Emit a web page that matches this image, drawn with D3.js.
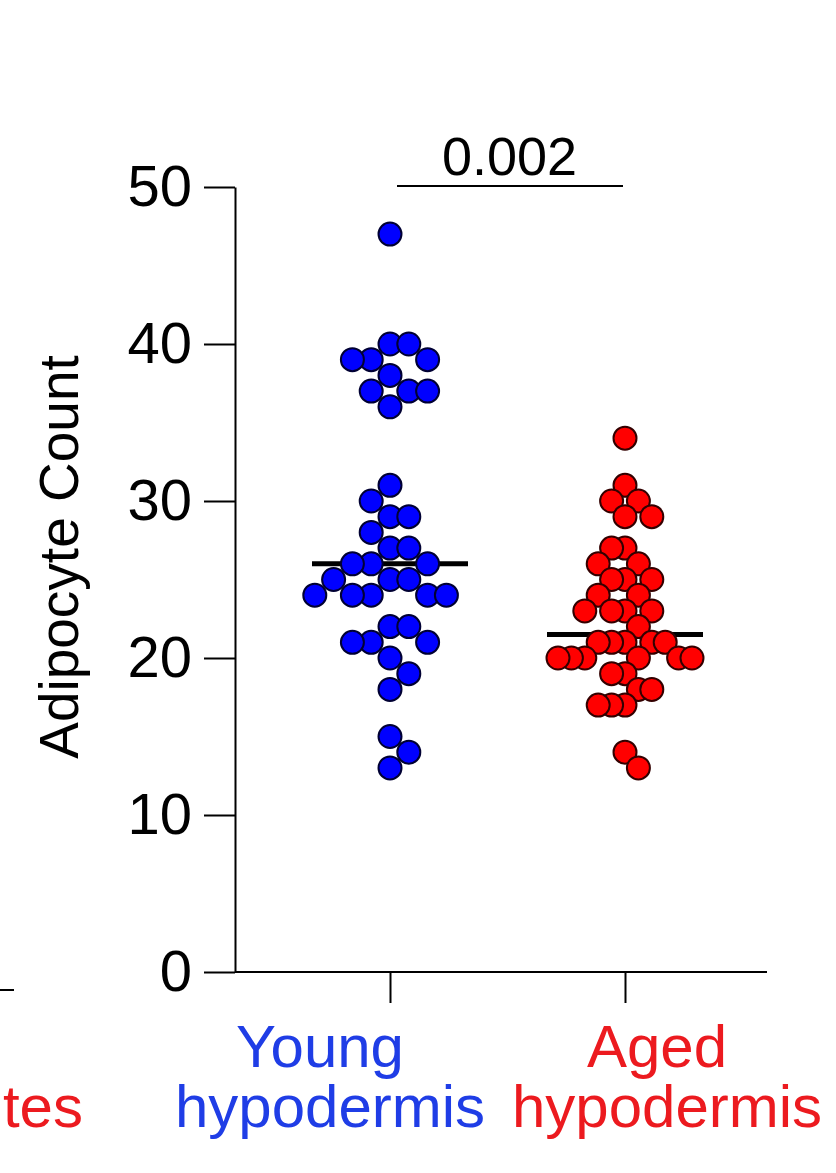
<!DOCTYPE html>
<html>
<head>
<meta charset="utf-8">
<script src="https://cdn.jsdelivr.net/npm/d3@7"></script>
<style>
  body { margin: 0; background: #fff; }
  svg text { font-family: "Liberation Sans", Arial, sans-serif; }
</style>
</head>
<body>
<div id="my_dotplot"></div>
<script>
// values
var youngCounts = [47, 40, 40, 39, 39, 39, 38, 37, 37, 37, 36, 31, 30, 29, 29, 28, 27, 27, 26, 26,
                   26, 25, 25, 25, 24, 24, 24, 24, 24, 22, 22, 21, 21, 21, 20, 19, 18, 15, 14, 13];
var agedCounts = [34, 31, 30, 30, 29, 29, 27, 27, 26, 26, 25, 25, 25, 24, 24, 23, 23, 23, 23, 22,
                  21, 21, 21, 21, 21, 20, 20, 20, 20, 20, 20, 19, 19, 18, 18, 17, 17, 17, 14, 13];
var groupNames = ["Young", "Aged"];
var groupSub = "hypodermis";
var yTicks = [0, 10, 20, 30, 40, 50];
var pValue = "0.002";
var yTitle = "Adipocyte Count";
var cutText = "tes";

var groupColor = { Young: "#0000ff", Aged: "#ff0000" };
var groupStroke = { Young: "#000033", Aged: "#330000" };
var labelColor = { Young: "#1f3de6", Aged: "#ec1a1f" };
var slotWidth = { Young: 18.8, Aged: 13.4 };   // horizontal step of the swarm
var labelShift = { Young: -65, Aged: 37 };

var svg = d3.select("#my_dotplot")
  .append("svg")
  .attr("width", 836)
  .attr("height", 1173);

var y = d3.scaleLinear().domain([0, 50]).range([972, 187]);
var x = d3.scalePoint().domain(groupNames).range([390, 625]);

// y axis
var yAxis = svg.append("g")
  .attr("transform", "translate(235,0)")
  .call(d3.axisLeft(y).tickValues(yTicks).tickSize(31).tickSizeOuter(0).tickPadding(12))
  .attr("font-size", null)
  .attr("font-family", null);
yAxis.selectAll("line, path").attr("stroke", "#000").attr("stroke-width", 2);
yAxis.selectAll("text").style("font-size", "58px").attr("fill", "#000");

// x axis
svg.append("line")
  .attr("x1", 235).attr("x2", 767)
  .attr("y1", y(0)).attr("y2", y(0))
  .attr("stroke", "#000").attr("stroke-width", 2);
var xAxis = svg.append("g")
  .attr("transform", "translate(0," + y(0) + ")")
  .call(d3.axisBottom(x).tickSize(31).tickFormat(""));
xAxis.select(".domain").remove();
xAxis.selectAll("line").attr("stroke", "#000").attr("stroke-width", 2);

// y title
svg.append("text")
  .attr("transform", "translate(78,557) rotate(-90)")
  .attr("text-anchor", "middle")
  .style("font-size", "55px")
  .text(yTitle);

// group labels, two lines each
groupNames.forEach(function(g) {
  var t = svg.append("text")
    .attr("text-anchor", "middle")
    .attr("fill", labelColor[g])
    .style("font-size", "60px");
  t.append("tspan").attr("x", x(g) + labelShift[g] - 5).attr("y", 1067).text(g);
  t.append("tspan").attr("x", x(g) + labelShift[g] + 5).attr("y", 1127).text(groupSub);
});

// piece of the neighbouring panel that is cut off
svg.append("line")
  .attr("x1", 0).attr("x2", 14).attr("y1", 990).attr("y2", 990)
  .attr("stroke", "#000").attr("stroke-width", 2);
svg.append("text")
  .attr("x", 83).attr("y", 1127)
  .attr("text-anchor", "end")
  .attr("fill", labelColor.Aged)
  .style("font-size", "60px")
  .text(cutText);

// significance bar
svg.append("line")
  .attr("x1", x("Young") + 7).attr("x2", x("Aged") - 2)
  .attr("y1", 186).attr("y2", 186)
  .attr("stroke", "#000").attr("stroke-width", 2);
svg.append("text")
  .attr("x", (x("Young") + x("Aged")) / 2 + 2)
  .attr("y", 175)
  .attr("text-anchor", "middle")
  .style("font-size", "54px")
  .text(pValue);

// simple grid swarm: points in nearby rows may not share a slot
function swarm(values, slot) {
  var placed = [];
  var sum = 0;
  var order = d3.range(values.length).sort(function(a, b) { return values[b] - values[a]; });
  order.forEach(function(i) {
    var cy = y(values[i]);
    var near = placed.filter(function(p) { return Math.abs(p.cy - cy) < 24; });
    for (var k = 0; k < 30; k++) {
      var signs = k === 0 ? [1] : (sum > 0 ? [-1, 1] : [1, -1]);
      var done = false;
      for (var s = 0; s < signs.length; s++) {
        var dx = signs[s] * k * slot;
        var ok = near.every(function(p) { return Math.abs(p.dx - dx) >= slot - 0.01; });
        if (ok) {
          placed.push({ value: values[i], cy: cy, dx: dx });
          sum += dx;
          done = true;
          break;
        }
      }
      if (done) break;
    }
  });
  return placed;
}

var series = [
  { name: "Young", values: youngCounts },
  { name: "Aged", values: agedCounts }
];

// median lines
svg.selectAll(".median")
  .data(series)
  .enter()
  .append("line")
    .attr("x1", function(d) { return x(d.name) - 78; })
    .attr("x2", function(d) { return x(d.name) + 78; })
    .attr("y1", function(d) { return y(d3.median(d.values)); })
    .attr("y2", function(d) { return y(d3.median(d.values)); })
    .attr("stroke", "#000")
    .attr("stroke-width", 5);

// the dots
series.forEach(function(d) {
  svg.append("g")
    .selectAll("circle")
    .data(swarm(d.values, slotWidth[d.name]))
    .enter()
    .append("circle")
      .attr("cx", function(p) { return x(d.name) + p.dx; })
      .attr("cy", function(p) { return y(p.value); })
      .attr("r", 11.5)
      .attr("fill", groupColor[d.name])
      .attr("stroke", groupStroke[d.name])
      .attr("stroke-width", 2);
});
</script>
</body>
</html>
